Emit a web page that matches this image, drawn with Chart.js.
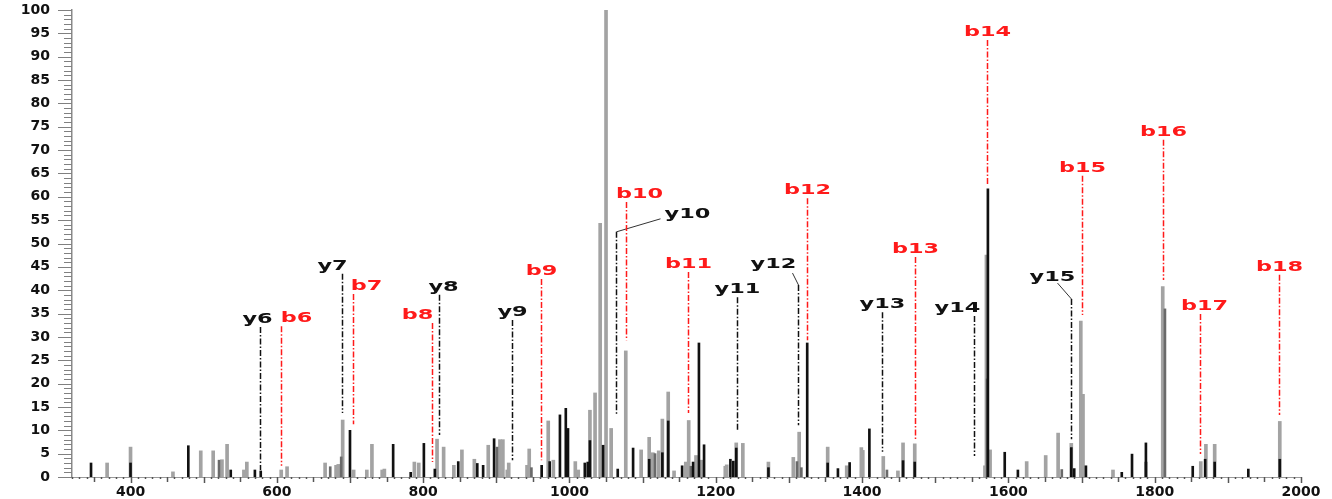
<!DOCTYPE html>
<html>
<head>
<meta charset="utf-8">
<script src="https://cdn.jsdelivr.net/npm/chart.js@4/dist/chart.umd.min.js"></script>
<style>
  html, body { margin: 0; padding: 0; background: #fff; }
  canvas { display: block; }
</style>
</head>
<body>
<canvas id="spectrum" width="1332" height="499"></canvas>
<script>
// m/z and relative intensity
const grayMz = [368, 400, 458, 496, 513, 525, 532, 555, 559, 606, 614, 666, 681, 684, 690, 705, 723, 730, 744, 747,
  788, 794, 819, 828, 842, 853, 870, 889, 905, 909, 915, 917, 942, 945, 971, 978, 1008, 1012, 1028, 1035,
  1042, 1050, 1057, 1077, 1098, 1109, 1114, 1122, 1127, 1135, 1143, 1159, 1163, 1173, 1180, 1213, 1215, 1228, 1237, 1272,
  1306, 1314, 1353, 1379, 1399, 1401, 1429, 1449, 1456, 1472, 1568, 1570, 1575, 1625, 1651, 1668, 1686, 1699, 1702, 1743,
  1788, 1811, 1863, 1870, 1882, 1971];
const grayInt = [3.0, 6.4, 1.1, 5.6, 5.6, 3.7, 7.0, 1.5, 3.2, 1.5, 2.2, 3.0, 2.5, 2.7, 12.2, 1.5, 1.5, 7.0, 1.5, 1.7,
  3.2, 3.0, 8.1, 6.4, 2.5, 5.8, 3.8, 6.8, 8.0, 8.0, 1.5, 3.0, 2.5, 6.0, 12.0, 3.6, 3.3, 1.5, 14.3, 18.0,
  54.3, 100, 10.4, 27.0, 5.8, 8.5, 5.2, 5.6, 12.4, 18.2, 1.3, 3.2, 12.1, 4.6, 3.6, 2.3, 2.6, 7.3, 7.2, 3.2,
  4.2, 9.6, 6.4, 2.4, 6.3, 5.7, 4.4, 1.3, 7.3, 7.1, 2.4, 47.5, 5.8, 3.3, 4.6, 9.4, 7.2, 33.4, 17.7, 1.5,
  3.2, 40.8, 3.3, 7.0, 7.0, 11.9];

const darkMz = [521, 673, 688, 901, 948, 1117, 1166, 1311, 1317, 1434, 1571, 1673, 1814];
const darkInt = [3.6, 2.2, 4.3, 6.4, 2.0, 5.0, 2.3, 3.3, 2.0, 1.5, 21.0, 1.6, 36.0];

const blackMz = [346, 400, 479, 537, 570, 578, 700, 759, 783, 801, 816, 848, 874, 882, 897, 962, 973, 987, 995, 998,
  1021, 1025, 1028, 1046, 1066, 1087, 1109, 1127, 1135, 1154, 1169, 1177, 1184, 1220, 1224, 1228, 1272, 1325, 1353, 1367,
  1383, 1410, 1456, 1472, 1572, 1595, 1613, 1686, 1690, 1706, 1755, 1769, 1788, 1852, 1869, 1882, 1928, 1971];
const blackInt = [3.0, 3.0, 6.7, 1.5, 1.5, 1.3, 10.0, 7.0, 1.0, 7.2, 1.7, 3.3, 2.9, 2.5, 8.2, 2.5, 3.3, 13.3, 14.7, 10.4,
  3.0, 3.2, 7.8, 6.8, 1.7, 6.2, 3.8, 5.2, 12.0, 2.4, 3.2, 28.7, 6.9, 3.8, 3.4, 6.2, 2.0, 28.7, 3.0, 1.8,
  3.1, 10.3, 3.5, 3.2, 61.7, 5.3, 1.5, 6.3, 1.8, 2.4, 1.0, 4.9, 7.3, 2.3, 3.8, 3.2, 1.7, 3.8];

// fragment ion annotations: label, m/z, top and bottom of the marker line (intensity units)
const ionLabels = ["y6", "b6", "y7", "b7", "b8", "y8", "y9", "b9", "y10", "b10", "b11", "y11", "y12", "b12",
  "y13", "b13", "y14", "b14", "y15", "b15", "b16", "b17", "b18"];
const ionMz = [577, 606, 689, 704, 812, 822, 921, 961, 1064, 1077, 1162, 1229, 1312, 1325,
  1427, 1472, 1553, 1571, 1686, 1701, 1811, 1862, 1970];
const ionTop = [32.1, 32.3, 43.5, 39.2, 33.0, 39.0, 33.6, 42.4, 52.5, 58.9, 43.9, 38.5, 41.1, 59.7,
  35.3, 47.1, 34.5, 93.6, 38.1, 64.5, 72.2, 34.9, 43.3];
const ionBottom = [1.5, 2.4, 13.7, 11.3, 3.2, 9.0, 3.6, 3.6, 13.3, 29.3, 13.7, 10.0, 11.1, 29.3,
  5.4, 8.1, 4.5, 62.5, 8.1, 34.7, 42.2, 4.9, 13.3];

// label placement tweaks (pixels)
const labelShift = {
  y6: [-3, 0], b6: [15, 0], y7: [-10, 0], b7: [13, 0], b8: [-15, 0], y8: [4, 0], b10: [13, 0],
  y10: [71, -10, 44, -13], y12: [-25, -13, -6, -12], y14: [-17, 0], y15: [-19, -14, -14, -16], b17: [4, 0]
};

function pts(xs, ys) {
  return xs.map((x, i) => ({ x: x, y: ys[i] }));
}

const ionPlugin = {
  id: "ions",
  afterDatasetsDraw(chart) {
    const c = chart.ctx, xs = chart.scales.x, ys = chart.scales.y;
    c.save();
    ionLabels.forEach((lab, i) => {
      const col = lab[0] === "b" ? "#ff1a1a" : "#111";
      const x = Math.round(xs.getPixelForValue(ionMz[i])) + 0.5;
      const yt = ys.getPixelForValue(ionTop[i]);
      const yb = ys.getPixelForValue(ionBottom[i]);
      c.strokeStyle = col;
      c.lineWidth = 1.5;
      c.setLineDash([6, 2, 1.5, 2]);
      c.beginPath();
      c.moveTo(x, yt);
      c.lineTo(x, yb);
      c.stroke();
      c.setLineDash([]);
      const s = labelShift[lab] || [0, 0];
      if (s.length > 2) {
        c.lineWidth = 1;
        c.strokeStyle = "#333";
        c.beginPath();
        c.moveTo(x, yt);
        c.lineTo(x + s[2], yt + s[3]);
        c.stroke();
      }
      c.fillStyle = col;
      c.font = "bold 14px 'DejaVu Sans'";
      c.textAlign = "center";
      c.textBaseline = "alphabetic";
      c.save();
      c.translate(x + s[0], yt - 4 + s[1]);
      c.scale(1.6, 1);
      c.fillText(lab, 0, 0);
      c.restore();
    });
    c.restore();
  }
};

const tickPlugin = {
  id: "minorTicks",
  afterDraw(chart) {
    const c = chart.ctx, xs = chart.scales.x, ys = chart.scales.y;
    const area = chart.chartArea;
    c.save();
    c.strokeStyle = "#808080";
    c.lineWidth = 1;
    for (let v = 0; v <= 100; v++) {
      const y = Math.round(ys.getPixelForValue(v)) + 0.5;
      const len = v % 5 === 0 ? 14 : 8;
      c.beginPath();
      c.moveTo(area.left - len, y);
      c.lineTo(area.left, y);
      c.stroke();
    }
    c.strokeStyle = "#555";
    c.lineWidth = 1.5;
    for (let m = 320; m <= 2000; m += 10) {
      const x = Math.round(xs.getPixelForValue(m)) + 0.5;
      const len = m % 100 === 0 ? 6 : (m % 50 === 0 ? 5 : 2);
      c.beginPath();
      c.moveTo(x, area.bottom);
      c.lineTo(x, area.bottom + len);
      c.stroke();
    }
    c.restore();
  }
};

const ctx = document.getElementById("spectrum").getContext("2d");

new Chart(ctx, {
  type: "bar",
  data: {
    datasets: [
      { data: pts(blackMz, blackInt), backgroundColor: "#111111", barThickness: 2, order: 0 },
      { data: pts(darkMz, darkInt), backgroundColor: "#6a6a6a", barThickness: 2, order: 1 },
      { data: pts(grayMz, grayInt), backgroundColor: "#a3a3a3", barThickness: 3, order: 2 }
    ]
  },
  options: {
    responsive: false,
    animation: false,
    devicePixelRatio: 1,
    grouped: false,
    layout: { padding: { top: 10, right: 31, left: 0, bottom: 0 } },
    plugins: {
      legend: { display: false },
      tooltip: { enabled: false }
    },
    scales: {
      x: {
        type: "linear",
        min: 320,
        max: 2000,
        offset: false,
        grid: { display: false, drawTicks: true, tickLength: 7 },
        border: { display: true, color: "#9a9a9a", width: 1 },
        ticks: {
          stepSize: 200,
          autoSkip: false,
          maxRotation: 0,
          padding: 0,
          color: "#111",
          font: { family: "DejaVu Sans", size: 14, weight: "bold" },
          callback: v => (v % 200 === 0 ? v : "")
        },
        afterFit: s => { s.height = 22; }
      },
      y: {
        min: 0,
        max: 100,
        grid: { display: false, drawTicks: true, tickLength: 22 },
        border: { display: true, color: "#8a8a8a", width: 1.5 },
        ticks: {
          stepSize: 5,
          padding: 0,
          color: "#111",
          font: { family: "DejaVu Sans", size: 14, weight: "bold" }
        },
        afterFit: s => { s.width = 72; }
      }
    }
  },
  plugins: [ionPlugin, tickPlugin]
});
</script>
</body>
</html>
